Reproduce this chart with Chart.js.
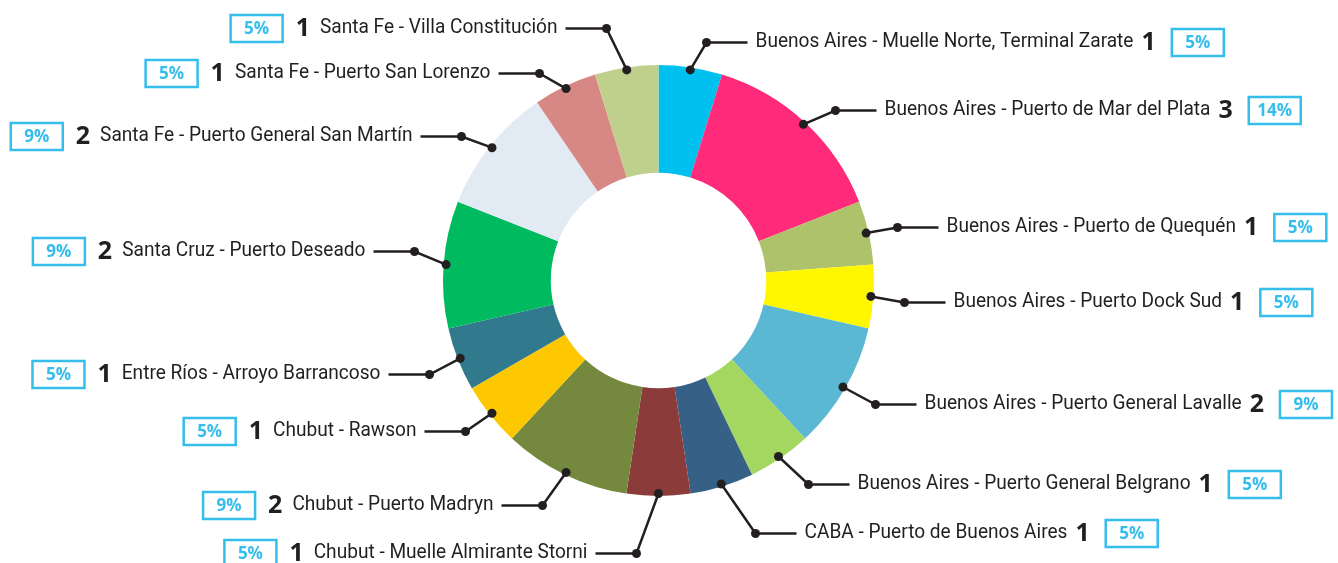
<!DOCTYPE html>
<html>
<head>
<meta charset="utf-8">
<script src="https://cdn.jsdelivr.net/npm/chart.js@4"></script>
<style>
  html, body { margin: 0; padding: 0; background: #fff; }
  #wrap { width: 1338px; height: 563px; position: relative; }
</style>
</head>
<body>
<div id="wrap"><canvas id="chart"></canvas></div>
<script>
// data (clockwise from the top)
const puertos = [
  "Buenos Aires - Muelle Norte, Terminal Zarate",
  "Buenos Aires - Puerto de Mar del Plata",
  "Buenos Aires - Puerto de Quequén",
  "Buenos Aires - Puerto Dock Sud",
  "Buenos Aires - Puerto General Lavalle",
  "Buenos Aires - Puerto General Belgrano",
  "CABA - Puerto de Buenos Aires",
  "Chubut - Muelle Almirante Storni",
  "Chubut - Puerto Madryn",
  "Chubut - Rawson",
  "Entre Ríos - Arroyo Barrancoso",
  "Santa Cruz - Puerto Deseado",
  "Santa Fe - Puerto General San Martín",
  "Santa Fe - Puerto San Lorenzo",
  "Santa Fe - Villa Constitución"
];
const cantidades = [1, 3, 1, 1, 2, 1, 1, 1, 2, 1, 1, 2, 2, 1, 1];
const porcentajes = ["5%", "14%", "5%", "5%", "9%", "5%", "5%", "5%", "9%", "5%", "5%", "9%", "9%", "5%", "5%"];

const colores = [
  "#00C0F0", "#FF2A7A", "#ADC26B", "#FFF700", "#5BB8D2",
  "#A3D760", "#376087", "#8B3C3A", "#74893E", "#FDC800",
  "#317A8E", "#00BA60", "#E2EAF4", "#D88884", "#BFD08C"
];

// where each leader line bends, relative to the centre of the ring
const codos = [
  [48, -238], [177, -170], [239, -53], [246, 22], [217, 124],
  [150, 204], [97, 253], [-22, 273], [-116, 225], [-193, 151],
  [-229, 94], [-244, -29], [-197, -144], [-119, -207], [-52, -252]
];

const TXT = "#231F20";
const BOX = "#35BDEC";
const FONT_TXT = "21px Roboto, 'DejaVu Sans Condensed', sans-serif";
const FONT_NUM = "bold 25px 'Open Sans', sans-serif";
let SX = 1; // narrow the label text, set below

function textoAngosto(ctx, s, x, y) {
  ctx.save();
  ctx.translate(x, y);
  ctx.scale(SX, 1);
  ctx.fillText(s, 0, 0);
  ctx.restore();
}

const etiquetas = {
  id: "etiquetas",
  afterDatasetsDraw(chart) {
    const ctx = chart.ctx;
    const arcs = chart.getDatasetMeta(0).data;
    ctx.save();
    ctx.font = FONT_TXT;
    // the longest label is about 378px wide in the original
    SX = 378 / ctx.measureText(puertos[0]).width;
    arcs.forEach((arc, i) => {
      const p = arc.getProps(["x", "y", "startAngle", "endAngle", "outerRadius"], true);
      const mid = (p.startAngle + p.endAngle) / 2;
      const r = p.outerRadius - 2.5;
      const ax = p.x + Math.cos(mid) * r;
      const ay = p.y + Math.sin(mid) * r;
      const ex = p.x + codos[i][0];
      const ey = p.y + codos[i][1];
      const derecha = codos[i][0] > 0;
      const lx = derecha ? ex + 41 : ex - 41;

      ctx.strokeStyle = TXT;
      ctx.lineWidth = 2.5;
      ctx.beginPath();
      ctx.moveTo(ax, ay);
      ctx.lineTo(ex, ey);
      ctx.lineTo(lx, ey);
      ctx.stroke();
      ctx.fillStyle = TXT;
      [[ax, ay], [ex, ey]].forEach(d => {
        ctx.beginPath();
        ctx.arc(d[0], d[1], 4.5, 0, Math.PI * 2);
        ctx.fill();
      });

      ctx.textBaseline = "middle";
      ctx.font = FONT_TXT;
      const wTxt = ctx.measureText(puertos[i]).width * SX;
      ctx.font = FONT_NUM;
      const wNum = ctx.measureText(String(cantidades[i])).width;
      const wBox = 52, hBox = 27;

      let xTxt, xNum, xBox;
      if (derecha) {
        xTxt = lx + 8;
        xNum = xTxt + wTxt + 8;
        xBox = xNum + wNum + 16;
      } else {
        xTxt = lx - 8 - wTxt;
        xNum = xTxt - 10 - wNum;
        xBox = xNum - 13 - wBox;
      }
      const ty = ey - 1;

      ctx.textAlign = "left";
      ctx.fillStyle = TXT;
      ctx.font = FONT_TXT;
      textoAngosto(ctx, puertos[i], xTxt, ty);
      ctx.font = FONT_NUM;
      ctx.fillText(String(cantidades[i]), xNum, ty + 1);

      ctx.strokeStyle = BOX;
      ctx.lineWidth = 2.5;
      ctx.strokeRect(xBox, ty - hBox / 2 + 1, wBox, hBox);
      ctx.fillStyle = BOX;
      ctx.textAlign = "center";
      ctx.font = "bold 17px 'Open Sans', sans-serif";
      ctx.fillText(porcentajes[i], xBox + wBox / 2, ty + 2);
    });
    ctx.restore();
  }
};

new Chart(document.getElementById("chart"), {
  type: "doughnut",
  data: {
    labels: puertos,
    datasets: [{
      data: cantidades,
      backgroundColor: colores,
      borderWidth: 0
    }]
  },
  options: {
    responsive: true,
    maintainAspectRatio: false,
    animation: false,
    cutout: "50%",
    layout: { padding: { top: 65, bottom: 67, left: 0, right: 21 } },
    plugins: {
      legend: { display: false },
      tooltip: { enabled: false }
    }
  },
  plugins: [etiquetas]
});
</script>
</body>
</html>
